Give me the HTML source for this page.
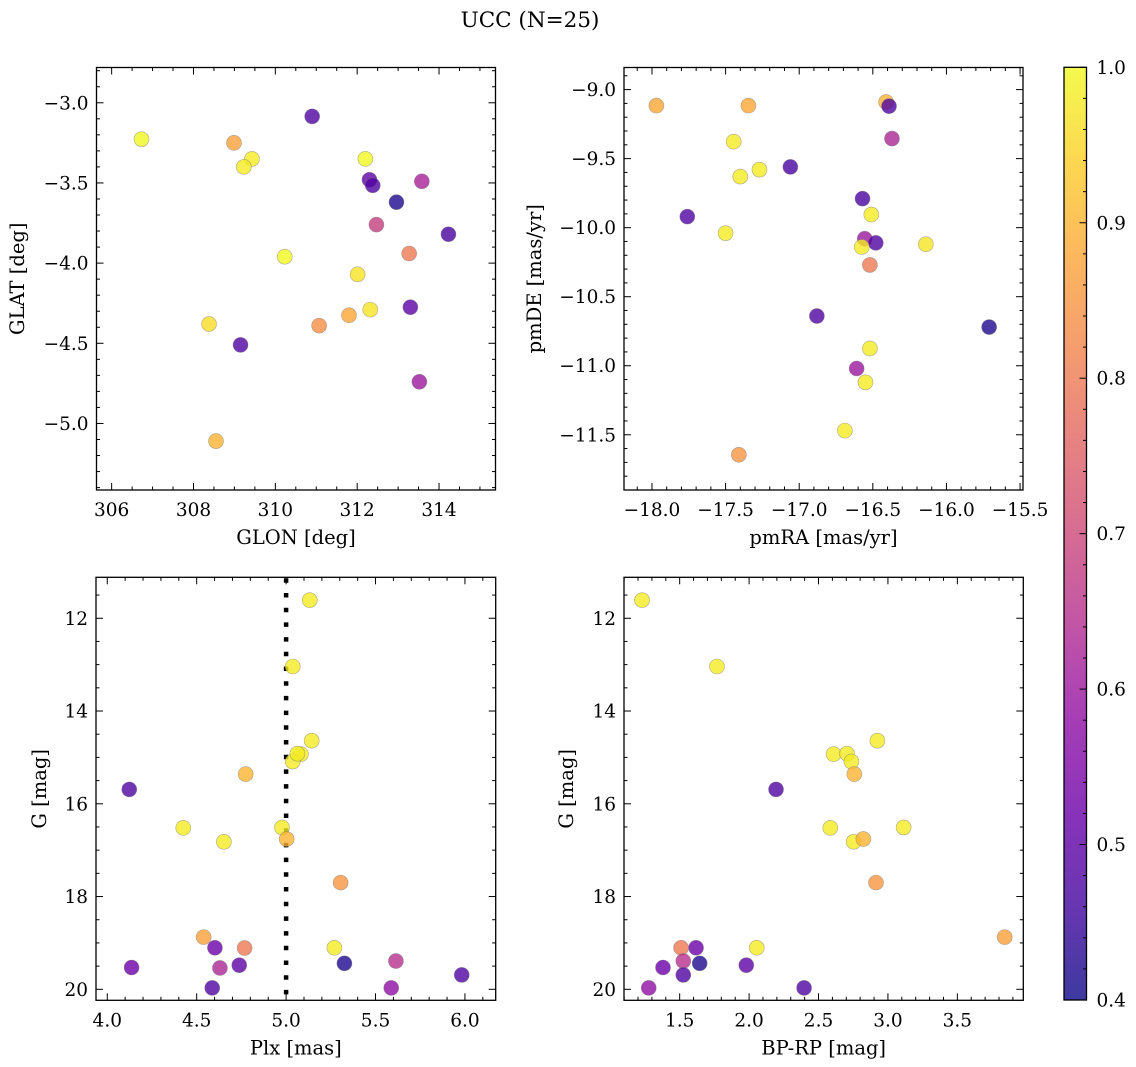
<!DOCTYPE html>
<html>
<head>
<meta charset="utf-8">
<style>
html,body{margin:0;padding:0;background:#fff;}
svg{display:block;}
text{font-family:"DejaVu Serif","Liberation Serif",serif;fill:#000;}
</style>
</head>
<body>
<svg id="fig" width="1136" height="1067" viewBox="0 0 1136 1067" xmlns="http://www.w3.org/2000/svg">
<text x="530" y="27" font-size="21.5" text-anchor="middle">UCC (N=25)</text>
</svg>
<script>
// ---- data arrays ----
const glon = [306.73,308.99,309.43,309.23,310.90,312.20,312.30,312.38,313.58,312.96,312.47,314.23,313.27,310.23,312.01,312.32,313.30,311.80,311.07,308.38,309.15,313.52,308.55];
const glat = [-3.227,-3.25,-3.35,-3.40,-3.085,-3.35,-3.48,-3.515,-3.49,-3.62,-3.76,-3.82,-3.94,-3.96,-4.07,-4.29,-4.275,-4.325,-4.39,-4.38,-4.51,-4.74,-5.11];
const cGal = [1.0,0.87,0.98,0.98,0.48,1.0,0.5,0.48,0.62,0.42,0.68,0.47,0.8,1.0,0.97,0.97,0.5,0.88,0.84,0.96,0.48,0.6,0.9];

const pmra = [-17.97,-17.345,-16.41,-16.39,-16.37,-17.445,-17.06,-17.27,-17.40,-16.57,-16.51,-17.76,-17.50,-16.555,-16.48,-16.575,-16.14,-16.52,-16.88,-15.71,-16.52,-16.61,-16.55,-16.69,-17.41];
const pmde = [-9.116,-9.116,-9.09,-9.12,-9.355,-9.377,-9.56,-9.58,-9.63,-9.79,-9.905,-9.92,-10.04,-10.08,-10.11,-10.14,-10.12,-10.27,-10.64,-10.72,-10.875,-11.02,-11.12,-11.47,-11.645];
const cPm = [0.88,0.88,0.9,0.48,0.63,0.98,0.47,0.98,0.98,0.47,0.98,0.48,0.98,0.6,0.48,0.98,0.97,0.8,0.48,0.42,0.98,0.6,0.98,0.98,0.85];

const plx = [5.132,5.037,5.143,5.083,5.037,5.063,4.774,4.123,4.425,4.977,4.652,5.003,5.305,4.539,4.602,4.768,5.270,4.136,4.630,4.738,5.326,5.614,4.587,5.588,5.982];
const gPlx = [11.61,13.04,14.64,14.93,15.09,14.92,15.36,15.69,16.52,16.51,16.82,16.76,17.70,18.875,19.105,19.11,19.105,19.53,19.54,19.48,19.44,19.39,19.97,19.97,19.69];
const cPlx = [0.98,0.98,0.98,0.98,0.98,0.98,0.9,0.48,0.98,0.98,0.98,0.9,0.85,0.87,0.52,0.8,0.98,0.52,0.63,0.5,0.42,0.65,0.48,0.58,0.48];

const bprp = [1.229,1.769,2.924,2.609,2.705,2.737,2.758,2.194,2.585,3.113,2.753,2.823,2.914,3.841,1.618,1.510,2.055,1.380,1.526,1.980,1.644,1.526,1.277,2.396];
const gCmd = [11.61,13.04,14.64,14.93,14.92,15.09,15.36,15.69,16.52,16.51,16.82,16.76,17.70,18.875,19.105,19.105,19.105,19.53,19.39,19.48,19.44,19.69,19.97,19.97];
const cCmd = [0.98,0.98,0.98,0.98,0.98,0.98,0.9,0.48,0.98,0.98,0.98,0.9,0.85,0.87,0.52,0.8,0.98,0.52,0.65,0.5,0.42,0.48,0.58,0.48];

const plxRef = [5.0];
const cbTicks = [0.4,0.5,0.6,0.7,0.8,0.9,1.0];
const cRange = [0.4,1.0];

// ---- helpers ----
const NS = "http://www.w3.org/2000/svg";
const svg = document.getElementById('fig');
const TICKFS = 18.5, LABFS = 19.5;
function mk(tag, attrs, parent){
  const e = document.createElementNS(NS, tag);
  for (const k in attrs) e.setAttribute(k, attrs[k]);
  (parent||svg).appendChild(e);
  return e;
}
const plasma = [[13,8,135],[65,4,157],[106,0,168],[143,13,164],[177,42,144],[204,71,120],[225,100,98],[242,132,75],[252,166,54],[252,206,37],[240,249,33]];
function cmap(v){
  let t = (v - cRange[0])/(cRange[1]-cRange[0]);
  t = Math.max(0, Math.min(1, t));
  const p = t*10, i = Math.min(9, Math.floor(p)), f = p - i;
  const a = plasma[i], b = plasma[i+1];
  return 'rgb(' + [0,1,2].map(k => Math.round(a[k]+(b[k]-a[k])*f)).join(',') + ')';
}
function fmt(v, d){ const s = v.toFixed(d); return s.replace('-', '\u2212'); }

function panel(opt){
  const g = mk('g', {});
  
  
  const L = opt.box[0], T = opt.box[1], R = opt.box[2], B = opt.box[3];
  const sx = v => L + (v - opt.xr[0])/(opt.xr[1]-opt.xr[0])*(R-L);
  const sy = opt.invertY ? (v => T + (v - opt.yr[0])/(opt.yr[1]-opt.yr[0])*(B-T))
                         : (v => B - (v - opt.yr[0])/(opt.yr[1]-opt.yr[0])*(B-T));
  if (opt.vline){
    opt.vline.forEach(v => {
      const ln = mk('line', {x1:sx(v), x2:sx(v), y1:T+1, y2:B, stroke:'#000', 'stroke-width':4.5, 'stroke-dasharray':'4.5 10.2'}, g);
      
      
    });
  }
  for (let i=0;i<opt.xs.length;i++){
    const c = mk('circle', {cx:sx(opt.xs[i]), cy:sy(opt.ys[i]), r:7.5, fill:cmap(opt.cs[i]), 'fill-opacity':0.8, stroke:'#777', 'stroke-opacity':0.6, 'stroke-width':0.6}, g);
    
    
  }
  const fr = mk('rect', {x:L, y:T, width:R-L, height:B-T, fill:'none', stroke:'#000', 'stroke-width':1.3}, g);
  
  
  const xt = mk('g', {}, g);
  
  
  for (let v = Math.ceil(opt.xr[0]/opt.xminor)*opt.xminor; v <= opt.xr[1]+1e-9; v += opt.xminor){
    const vv = Math.round(v/opt.xminor)*opt.xminor;
    const isMaj = Math.abs(vv/opt.xmajor - Math.round(vv/opt.xmajor)) < 1e-6;
    const len = isMaj ? 7 : 3.5, x = sx(vv);
    mk('line', {x1:x, x2:x, y1:B, y2:B-len, stroke:'#000', 'stroke-width':1}, xt);
    mk('line', {x1:x, x2:x, y1:T, y2:T+len, stroke:'#000', 'stroke-width':1}, xt);
    if (isMaj){
      const t = mk('text', {x:x, y:B+26, 'font-size':TICKFS, 'text-anchor':'middle'}, xt);
      t.textContent = fmt(vv, opt.xdec);
      
      
    }
  }
  const yt = mk('g', {}, g);
  
  
  for (let v = Math.ceil(opt.yr[0]/opt.yminor)*opt.yminor; v <= opt.yr[1]+1e-9; v += opt.yminor){
    const vv = Math.round(v/opt.yminor)*opt.yminor;
    const isMaj = Math.abs(vv/opt.ymajor - Math.round(vv/opt.ymajor)) < 1e-6;
    const len = isMaj ? 7 : 3.5, y = sy(vv);
    mk('line', {x1:L, x2:L+len, y1:y, y2:y, stroke:'#000', 'stroke-width':1}, yt);
    mk('line', {x1:R, x2:R-len, y1:y, y2:y, stroke:'#000', 'stroke-width':1}, yt);
    if (isMaj){
      const t = mk('text', {x:L-8, y:y+6.5, 'font-size':TICKFS, 'text-anchor':'end'}, yt);
      t.textContent = fmt(vv, opt.ydec);
      
      
    }
  }
  const xl = mk('text', {x:(L+R)/2, y:B+54, 'font-size':LABFS, 'text-anchor':'middle'}, g);
  xl.textContent = opt.xlabel;
  
  
  const yl = mk('text', {x:0, y:0, 'font-size':LABFS, 'text-anchor':'middle', transform:'translate('+opt.ylx+','+((T+B)/2)+') rotate(-90)'}, g);
  yl.textContent = opt.ylabel;
  
  
}

panel({name:'glon-glat-panel', box:[96.5,67.5,495.5,490], xr:[305.63,315.38], yr:[-5.415,-2.78], xs:glon, ys:glat, cs:cGal,
  xmajor:2, xminor:0.5, ymajor:0.5, yminor:0.1, xdec:0, ydec:1, xlabel:'GLON [deg]', ylabel:'GLAT [deg]', ylx:24});
panel({name:'pm-panel', box:[624,67.5,1023,490], xr:[-18.19,-15.48], yr:[-11.90,-8.84], xs:pmra, ys:pmde, cs:cPm,
  xmajor:0.5, xminor:0.1, ymajor:0.5, yminor:0.1, xdec:1, ydec:1, xlabel:'pmRA [mas/yr]', ylabel:'pmDE [mas/yr]', ylx:541});
panel({name:'plx-g-panel', box:[96,577.3,495.7,1000.3], xr:[3.937,6.172], yr:[11.117,20.237], invertY:true, xs:plx, ys:gPlx, cs:cPlx,
  xmajor:0.5, xminor:0.1, ymajor:2, yminor:0.5, xdec:1, ydec:0, xlabel:'Plx [mas]', ylabel:'G [mag]', ylx:46, vline:plxRef});
panel({name:'cmd-panel', box:[624,577.3,1023.3,1000.3], xr:[1.099,3.975], yr:[11.117,20.237], invertY:true, xs:bprp, ys:gCmd, cs:cCmd,
  xmajor:0.5, xminor:0.1, ymajor:2, yminor:0.5, xdec:1, ydec:0, xlabel:'BP-RP [mag]', ylabel:'G [mag]', ylx:573});

// ---- colorbar ----
const cb = mk('g', {});


const defs = mk('defs', {}, cb);
const grad = mk('linearGradient', {id:'cbg', x1:0, y1:1, x2:0, y2:0}, defs);
for (let k=0;k<=10;k++){
  mk('stop', {offset:(k/10), 'stop-color':'rgb('+plasma[k].join(',')+')', 'stop-opacity':0.8}, grad);
}
const CT = 67.3, CB = 1000, CL = 1064, CR = 1086.5;
const cy = v => CB - (v - cRange[0])/(cRange[1]-cRange[0])*(CB-CT);
mk('rect', {x:CL, y:CT, width:CR-CL, height:CB-CT, fill:'url(#cbg)', stroke:'#000', 'stroke-width':1.3}, cb);
for (let v = cRange[0]; v <= cRange[1]+1e-9; v += 0.02){
  const y = cy(v);
  const maj = Math.abs(v*10 - Math.round(v*10)) < 1e-6;
  mk('line', {x1:CR, x2:CR-(maj?7:3.5), y1:y, y2:y, stroke:'#000', 'stroke-width':1}, cb);
}
cbTicks.forEach(v => {
  const t = mk('text', {x:CR+10, y:cy(v)+6.5, 'font-size':TICKFS}, cb);
  t.textContent = v.toFixed(1);
  
  
});
</script>
</body>
</html>
